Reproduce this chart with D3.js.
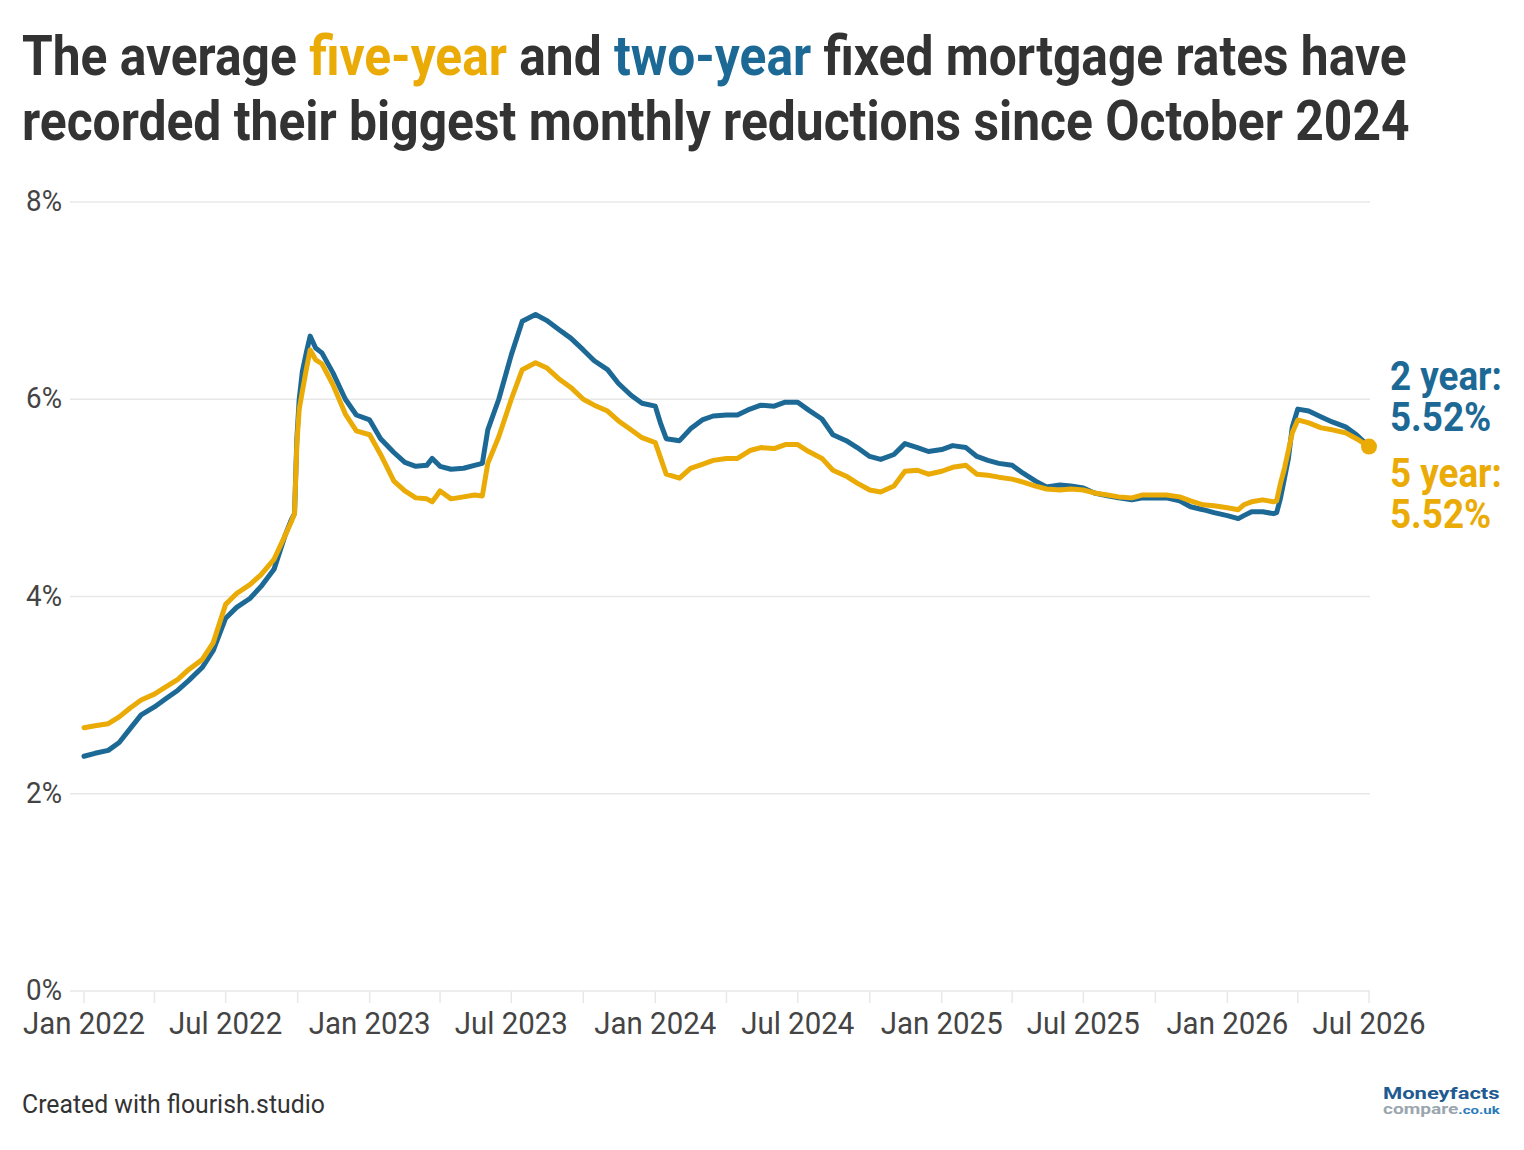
<!DOCTYPE html>
<html>
<head>
<meta charset="utf-8">
<script src="https://cdn.jsdelivr.net/npm/d3@7"></script>
<style>
  html, body { margin: 0; padding: 0; background: #fff; }
  svg { display: block; }
  text { font-family: Roboto, "Noto Sans", sans-serif; }
</style>
</head>
<body>
<svg id="chart" width="1524" height="1150"></svg>
<script>
// ---------------- DATA ----------------
const dates = [
  "2022-01-01","2022-01-15","2022-02-01","2022-02-15","2022-03-01","2022-03-15","2022-04-01","2022-04-15",
  "2022-05-01","2022-05-15","2022-06-01","2022-06-15","2022-07-01","2022-07-15","2022-08-01","2022-08-15",
  "2022-09-01","2022-09-15","2022-09-23","2022-09-27","2022-09-30","2022-10-03","2022-10-07","2022-10-12",
  "2022-10-17","2022-10-24","2022-11-01","2022-11-15","2022-12-01","2022-12-15",
  "2023-01-01","2023-01-15","2023-02-01","2023-02-15","2023-03-01","2023-03-15","2023-03-22","2023-04-01",
  "2023-04-15","2023-05-01","2023-05-15","2023-05-25","2023-06-01","2023-06-15","2023-07-01","2023-07-15",
  "2023-08-01","2023-08-15","2023-09-01","2023-09-15","2023-10-01","2023-10-15","2023-11-01","2023-11-15",
  "2023-12-01","2023-12-15",
  "2024-01-01","2024-01-08","2024-01-15","2024-02-01","2024-02-15","2024-03-01","2024-03-15","2024-04-01",
  "2024-04-15","2024-05-01","2024-05-15","2024-06-01","2024-06-15","2024-07-01","2024-07-15","2024-08-01",
  "2024-08-15","2024-09-01","2024-09-15","2024-10-01","2024-10-15","2024-11-01","2024-11-15","2024-12-01",
  "2024-12-15",
  "2025-01-01","2025-01-15","2025-02-01","2025-02-15","2025-03-01","2025-03-15","2025-04-01","2025-04-15",
  "2025-05-01","2025-05-15","2025-06-01","2025-06-15","2025-07-01","2025-07-15","2025-08-01","2025-08-15",
  "2025-09-01","2025-09-15","2025-10-01","2025-10-15","2025-11-01","2025-11-15","2025-12-01","2025-12-15",
  "2026-01-01","2026-01-15","2026-01-22","2026-02-01","2026-02-15","2026-03-01","2026-03-05","2026-03-10",
  "2026-03-15","2026-03-20","2026-03-25","2026-04-01","2026-04-15","2026-05-01","2026-05-15","2026-06-01",
  "2026-06-15","2026-07-01"
];

const twoYear = [
  2.38,2.41,2.44,2.52,2.66,2.80,2.88,2.96,
  3.05,3.15,3.28,3.45,3.78,3.89,3.98,4.10,
  4.28,4.62,4.78,4.84,5.60,6.00,6.28,6.47,
  6.64,6.52,6.47,6.27,6.00,5.84,
  5.79,5.60,5.46,5.36,5.32,5.33,5.40,5.32,
  5.29,5.30,5.33,5.35,5.69,6.00,6.45,6.79,
  6.86,6.80,6.70,6.62,6.50,6.39,6.30,6.16,
  6.04,5.96,
  5.93,5.75,5.60,5.58,5.70,5.79,5.83,5.84,
  5.84,5.90,5.94,5.93,5.97,5.97,5.89,5.80,
  5.64,5.58,5.51,5.42,5.39,5.44,5.55,5.51,
  5.47,
  5.49,5.53,5.51,5.42,5.38,5.35,5.33,5.25,
  5.17,5.11,5.13,5.12,5.10,5.05,5.02,5.00,
  4.98,5.00,5.00,5.00,4.97,4.91,4.88,4.85,
  4.82,4.79,4.82,4.86,4.86,4.84,4.85,5.00,
  5.20,5.40,5.72,5.90,5.88,5.82,5.77,5.72,
  5.64,5.52
];

const fiveYear = [
  2.67,2.69,2.71,2.78,2.87,2.95,3.01,3.08,
  3.16,3.26,3.36,3.53,3.92,4.03,4.12,4.22,
  4.38,4.62,4.76,4.84,5.55,5.90,6.08,6.30,
  6.50,6.40,6.36,6.15,5.85,5.68,
  5.64,5.44,5.17,5.07,5.00,4.99,4.96,5.07,
  4.99,5.01,5.03,5.02,5.35,5.62,6.00,6.30,
  6.37,6.32,6.20,6.12,6.00,5.94,5.88,5.78,
  5.69,5.61,
  5.56,5.40,5.24,5.20,5.30,5.34,5.38,5.40,
  5.40,5.48,5.51,5.50,5.54,5.54,5.47,5.40,
  5.28,5.22,5.15,5.08,5.06,5.12,5.27,5.28,
  5.24,
  5.27,5.31,5.33,5.24,5.23,5.21,5.19,5.16,
  5.12,5.09,5.08,5.09,5.08,5.05,5.03,5.01,
  5.00,5.03,5.03,5.03,5.01,4.97,4.93,4.92,
  4.90,4.88,4.93,4.96,4.98,4.96,4.97,5.15,
  5.30,5.48,5.66,5.79,5.76,5.71,5.69,5.66,
  5.60,5.52
];

const yTickValues = [0, 2, 4, 6, 8];
const yTickLabels = ["0%", "2%", "4%", "6%", "8%"];
const xDomain = ["2022-01-01", "2026-07-01"];
const xLabelFormat = "%b %Y";

const titleLine1 = [
  { t: "The average ", c: "dark" },
  { t: "five-year", c: "gold" },
  { t: " and ", c: "dark" },
  { t: "two-year", c: "blue" },
  { t: " fixed mortgage rates have", c: "dark" }
];
const titleLine2 = "recorded their biggest monthly reductions since October 2024";
const endLabels = [
  { series: "2 year:", value: "5.52%", c: "blue" },
  { series: "5 year:", value: "5.52%", c: "gold" }
];
const footerText = "Created with flourish.studio";

// ---------------- STYLE ----------------
const COLORS = { dark: "#333333", gold: "#ebab06", blue: "#1d6996", axis: "#444444", grid: "#e8e8e8" };

const svg = d3.select("#chart");
const parse = d3.utcParse("%Y-%m-%d");

const x = d3.scaleUtc().domain(xDomain.map(parse)).range([84, 1369]);
const y = d3.scaleLinear().domain([0, 8]).range([991, 202]);

function placeScaled(sel, px, py, f) {
  sel.attr("x", 0).attr("y", 0).attr("transform", `translate(${px},${py}) scale(${f},1)`);
}
function fitWidth(sel, px, py, target) {
  sel.attr("x", 0).attr("y", 0);
  const w = sel.node().getBBox().width;
  const f = target / w;
  sel.attr("transform", `translate(${px},${py}) scale(${f},1)`);
  return f;
}

// ---------------- TITLE ----------------
const t1 = svg.append("text").attr("font-size", 55).attr("font-weight", 700).attr("fill", COLORS.dark)
  .style("white-space", "pre");
titleLine1.forEach(p => t1.append("tspan").text(p.t).attr("fill", COLORS[p.c]));
fitWidth(t1, 22, 75, 1385);

const t2 = svg.append("text").attr("font-size", 55).attr("font-weight", 700).attr("fill", COLORS.dark).text(titleLine2);
fitWidth(t2, 22, 140, 1388);

// ---------------- GRID / Y AXIS ----------------
svg.append("g").selectAll("line.grid").data(yTickValues).join("line")
  .attr("class", "grid")
  .attr("x1", 70).attr("x2", 1370)
  .attr("y1", d => y(d)).attr("y2", d => y(d))
  .attr("stroke", COLORS.grid).attr("stroke-width", 1.5);

const yLab = svg.append("g");
let yFactor = null;
yTickValues.forEach((v, i) => {
  const t = yLab.append("text").attr("font-size", 29).attr("font-weight", 400)
    .attr("fill", COLORS.axis).attr("text-anchor", "end").text(yTickLabels[i]);
  if (yFactor === null) {
    t.attr("x", 0).attr("y", 0);
    yFactor = 36 / t.node().getBBox().width;
  }
  placeScaled(t, 62, y(v) + 9, yFactor);
});

// ---------------- X AXIS ----------------
const xAxisG = svg.append("g").attr("transform", `translate(0,${y(0)})`);
const qTicks = d3.utcMonth.every(3).range(x.domain()[0], d3.utcDay.offset(x.domain()[1], 1));
xAxisG.selectAll("line.tick").data(qTicks).join("line")
  .attr("class", "tick")
  .attr("x1", d => x(d)).attr("x2", d => x(d))
  .attr("y1", 0).attr("y2", 12)
  .attr("stroke", COLORS.grid).attr("stroke-width", 1.5);

const fmt = d3.utcFormat(xLabelFormat);
const labelTicks = qTicks.filter(d => d.getUTCMonth() % 6 === 0);
let xFactor = null;
labelTicks.forEach(d => {
  const t = xAxisG.append("text").attr("font-size", 31).attr("fill", COLORS.axis)
    .attr("text-anchor", "middle").text(fmt(d));
  if (xFactor === null) {
    t.attr("x", 0).attr("y", 0);
    xFactor = 122 / t.node().getBBox().width;
  }
  placeScaled(t, x(d), 43, xFactor);
});

// ---------------- LINES ----------------
const rows = dates.map((d, i) => ({ date: parse(d), two: twoYear[i], five: fiveYear[i] }));
const line = key => d3.line().x(d => x(d.date)).y(d => y(d[key])).curve(d3.curveLinear);

svg.append("path").datum(rows).attr("d", line("two"))
  .attr("fill", "none").attr("stroke", COLORS.blue).attr("stroke-width", 5)
  .attr("stroke-linejoin", "round").attr("stroke-linecap", "round");
svg.append("path").datum(rows).attr("d", line("five"))
  .attr("fill", "none").attr("stroke", COLORS.gold).attr("stroke-width", 5)
  .attr("stroke-linejoin", "round").attr("stroke-linecap", "round");

const last = rows[rows.length - 1];
svg.append("circle").attr("cx", x(last.date)).attr("cy", y(last.five)).attr("r", 8)
  .attr("fill", COLORS.gold);

// ---------------- END LABELS (one text block per series, two lines) ----------------
let endFactor = null;
const endBase = [390, 487];
endLabels.forEach((lab, i) => {
  const t = svg.append("text").attr("font-size", 40).attr("font-weight", 700).attr("fill", COLORS[lab.c]);
  const s1 = t.append("tspan").attr("x", 0).attr("dy", 0).text(lab.series);
  if (endFactor === null) {
    endFactor = 112 / s1.node().getComputedTextLength();
  }
  t.append("tspan").attr("x", 0).attr("dy", 41).text(lab.value);
  placeScaled(t, 1390, endBase[i], endFactor);
});

// ---------------- FOOTER ----------------
const ft = svg.append("text").attr("font-size", 26).attr("fill", COLORS.dark).text(footerText);
fitWidth(ft, 22, 1113, 303);

// logo
const logo1 = svg.append("text").attr("font-family", "'Liberation Sans', Arial, sans-serif")
  .attr("font-size", 17).attr("font-weight", 700).attr("fill", "#1f5a91").text("Moneyfacts");
fitWidth(logo1, 1383, 1099, 117);
const logo2 = svg.append("text").attr("font-family", "'Liberation Sans', Arial, sans-serif")
  .attr("font-size", 14).attr("font-weight", 700);
logo2.append("tspan").attr("fill", "#9aa6ae").text("compare");
logo2.append("tspan").attr("fill", "#2a7bb8").attr("font-size", 11).text(".co.uk");
fitWidth(logo2, 1383, 1114, 117);
</script>
</body>
</html>
